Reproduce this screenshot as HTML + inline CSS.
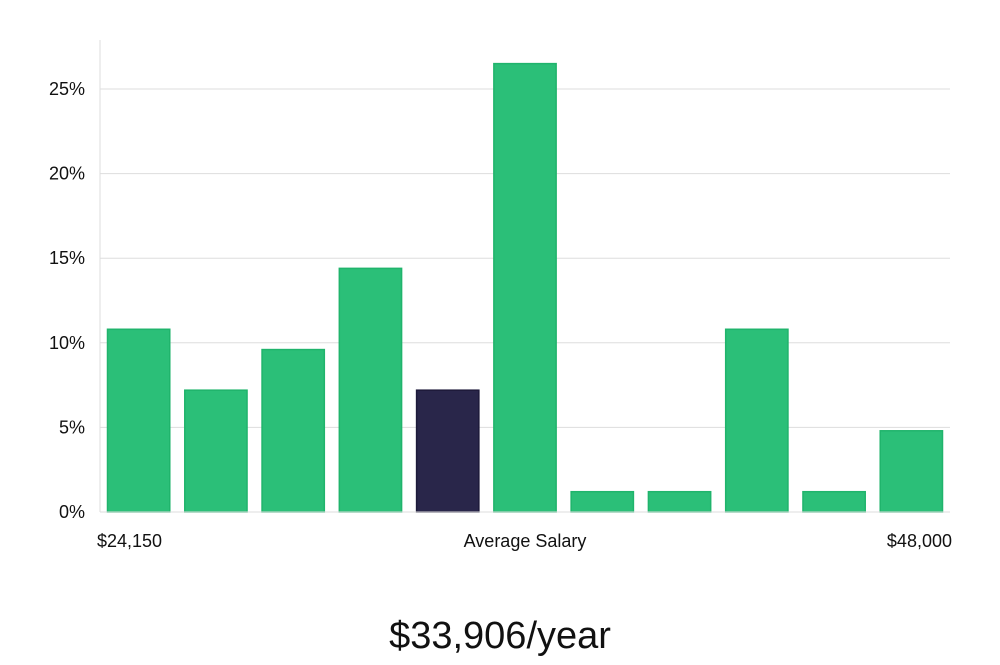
<!DOCTYPE html>
<html><head><meta charset="utf-8"><style>
body{margin:0;background:#fff;width:1000px;height:660px;overflow:hidden;font-family:"Liberation Sans","DejaVu Sans",sans-serif}
</style></head><body>
<svg id="chart" width="1000" height="660" xmlns="http://www.w3.org/2000/svg">
<g id="grid"></g><g id="bars"></g><g id="labels"></g>
<line x1="100" y1="40" x2="100" y2="512" stroke="#ddd" stroke-width="1"/>
<line x1="100" y1="512" x2="950" y2="512" stroke="#ddd" stroke-width="1"/>
<text x="97" y="547" font-size="18" fill="#111">$24,150</text>
<text x="525" y="547" font-size="18" fill="#111" text-anchor="middle">Average Salary</text>
<text x="952" y="547" font-size="18" fill="#111" text-anchor="end">$48,000</text>
<text x="500" y="648" font-size="38" fill="#111" text-anchor="middle">$33,906/year</text>
</svg>
<script>
const values=[10.8,7.2,9.6,14.4,7.2,26.5,1.2,1.2,10.8,1.2,4.8];
const highlightIndex=4;
const ticks=[0,5,10,15,20,25];
const tickLabels=["0%","5%","10%","15%","20%","25%"];
const NS="http://www.w3.org/2000/svg";
const x0=100,x1=950,yBase=512,pxPer=(512-89)/25;
function y(v){return yBase-v*pxPer;}
const step=(x1-x0)/values.length;
function x(i){return x0+i*step;}
const grid=document.getElementById('grid');
ticks.forEach((t,i)=>{
 if(t>0){const l=document.createElementNS(NS,'line');
 
 
 l.setAttribute('x1',x0);l.setAttribute('x2',x1);l.setAttribute('y1',y(t));l.setAttribute('y2',y(t));
 l.setAttribute('stroke','#ddd');grid.appendChild(l);}
 const tx=document.createElementNS(NS,'text');
 
 
 tx.setAttribute('x',85);tx.setAttribute('y',y(t)+6);tx.setAttribute('text-anchor','end');
 tx.setAttribute('font-size','18');tx.setAttribute('fill','#111');tx.textContent=tickLabels[i];
 grid.appendChild(tx);
});
const bars=document.getElementById('bars');
values.forEach((v,i)=>{
 const r=document.createElementNS(NS,'rect');
 
 
 r.setAttribute('x',x(i)+7.5);r.setAttribute('width',step-15);
 r.setAttribute('y',y(v));r.setAttribute('height',yBase-y(v));
 const hi=i===highlightIndex;
 r.setAttribute('fill',hi?'#29264a':'#2bbf78');
 r.setAttribute('stroke',hi?'#1d1a3a':'#20b46c');r.setAttribute('stroke-width','1.5');
 bars.appendChild(r);
});
</script>
</body></html>
